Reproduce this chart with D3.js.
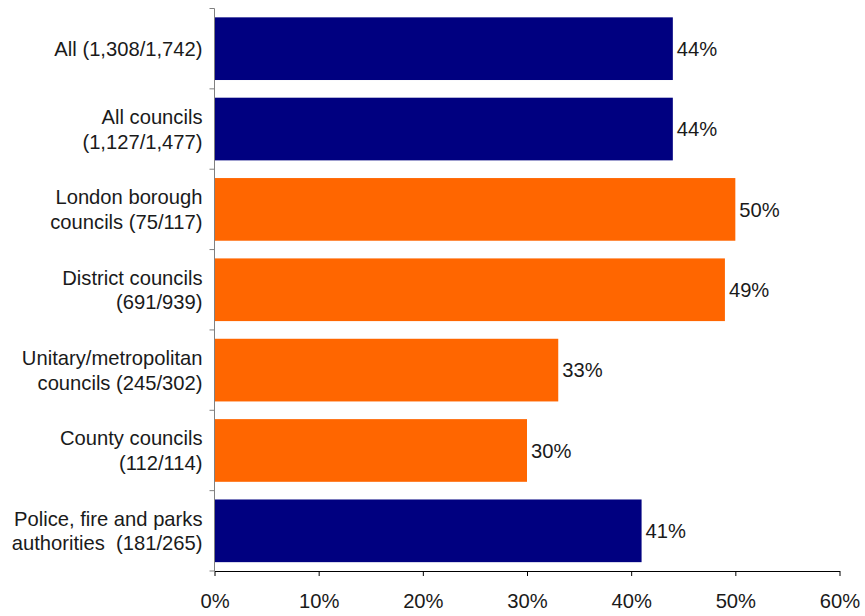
<!DOCTYPE html>
<html><head><meta charset="utf-8">
<script src="https://cdn.jsdelivr.net/npm/d3@7"></script>
<style>body{margin:0;background:#fff}svg{display:block}text{font-family:"Liberation Sans",Arial,sans-serif;fill:#1a1a1a}</style>
</head><body>
<script>
const categories = [
  ["All (1,308/1,742)"],
  ["All councils", "(1,127/1,477)"],
  ["London borough", "councils (75/117)"],
  ["District councils", "(691/939)"],
  ["Unitary/metropolitan", "councils (245/302)"],
  ["County councils", "(112/114)"],
  ["Police, fire and parks", "authorities  (181/265)"]
];
const values = [44, 44, 50, 49, 33, 30, 41];
const groups = ["all", "all", "council", "council", "council", "council", "other"];
const tickValues = [0, 10, 20, 30, 40, 50, 60];

const W = 865, H = 616;
const FS = 20.2;
const m = {left: 214.5, right: 25.5, top: 8.5, bottom: 45};
const svg = d3.select("body").append("svg").attr("width", W).attr("height", H);
const x = d3.scaleLinear().domain([0, 60]).range([m.left, W - m.right]);
const y = d3.scaleBand().domain(d3.range(categories.length)).range([m.top, H - m.bottom]).paddingInner(0.22).paddingOuter(0.11);
const color = d3.scaleOrdinal().domain(["all", "council", "other"]).range(["#000080", "#FF6600", "#000080"]);

svg.append("g").selectAll("rect").data(values).join("rect")
  .attr("x", x(0)).attr("y", (d, i) => y(i))
  .attr("width", d => x(d) - x(0)).attr("height", y.bandwidth())
  .attr("fill", (d, i) => color(groups[i]));

svg.append("g").selectAll("text").data(values).join("text")
  .attr("x", d => x(d) + 4).attr("y", (d, i) => y(i) + y.bandwidth() / 2)
  .attr("dy", "0.36em").attr("font-size", FS).text(d => d + "%");

// x axis
const xAxis = svg.append("g").attr("transform", `translate(0,${H - m.bottom})`)
  .call(d3.axisBottom(x).tickValues(tickValues).tickFormat(d => d + "%").tickSize(5).tickSizeOuter(0));
xAxis.select(".domain").attr("stroke", "#000");
xAxis.selectAll(".tick line").attr("stroke", "#000");
xAxis.selectAll(".tick text").attr("font-size", FS).attr("dy", "1.45em").style("font-family", '"Liberation Sans",Arial,sans-serif').attr("fill", "#1a1a1a");

// y axis line with boundary ticks
const yg = svg.append("g");
const bounds = d3.range(categories.length + 1).map(i => m.top + i * y.step());
yg.append("line").attr("x1", x(0)).attr("x2", x(0)).attr("y1", m.top).attr("y2", H - m.bottom).attr("stroke", "#808080").attr("stroke-width", 1);
yg.selectAll("line.t").data(bounds).join("line").attr("class", "t")
  .attr("x1", x(0) - 5).attr("x2", x(0)).attr("y1", d => d).attr("y2", d => d).attr("stroke", "#808080");

// category labels
const lh = 24.5;
svg.append("g").selectAll("text").data(categories).join("text")
  .attr("text-anchor", "end").attr("font-size", FS).style("white-space", "pre")
  .each(function(lines, i) {
    const cy = y(i) + y.bandwidth() / 2;
    const t = d3.select(this);
    lines.forEach((ln, j) => {
      t.append("tspan").attr("x", x(0) - 12)
        .attr("y", cy + (j - (lines.length - 1) / 2) * lh).attr("dy", "0.36em").text(ln);
    });
  });
</script>
</body></html>
